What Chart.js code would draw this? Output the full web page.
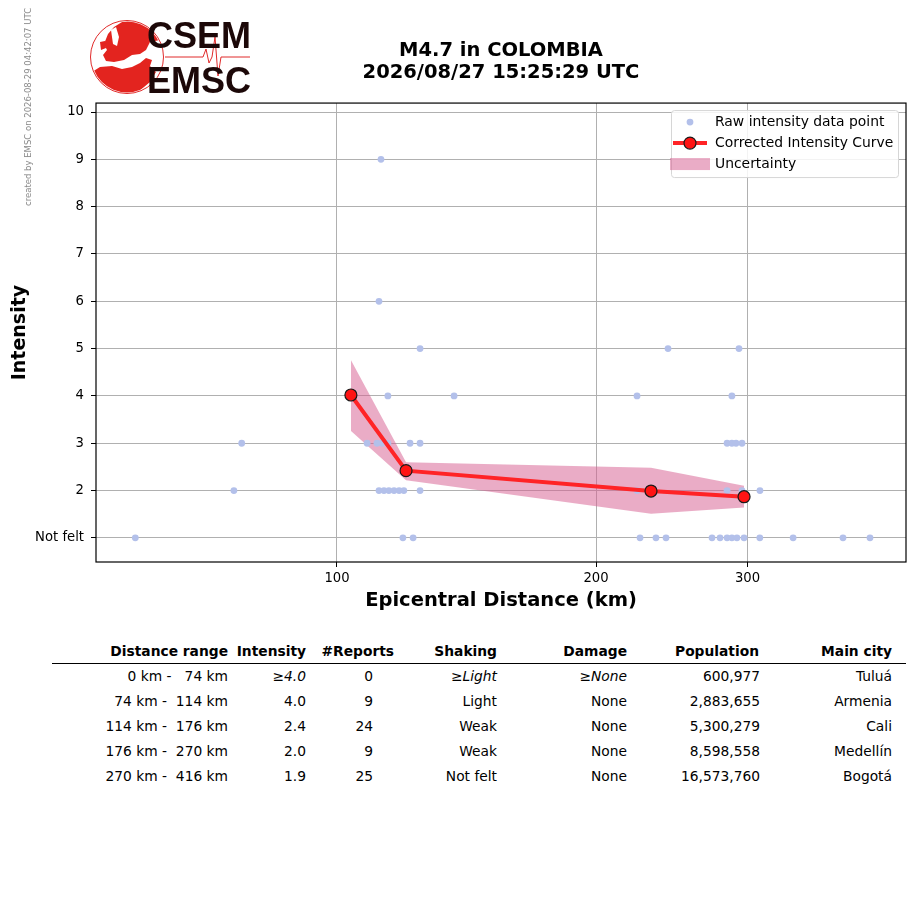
<!DOCTYPE html>
<html>
<head>
<meta charset="utf-8">
<title>M4.7 in COLOMBIA</title>
<script src="https://cdn.jsdelivr.net/npm/chart.js@4.4.1/dist/chart.umd.min.js"></script>
<style>
  html, body { margin: 0; padding: 0; background: #fff; }
  body { width: 915px; height: 905px; position: relative; overflow: hidden; font-family: 'DejaVu Sans', sans-serif; }
  #chart-wrap { position: absolute; left: 0; top: 0; width: 915px; height: 625px; }
  #logo { position: absolute; left: 0; top: 0; }
  .stamp { position: absolute; left: 28px; top: 107px; transform: translate(-50%, -50%) rotate(-90deg); font-size: 8.5px; color: #888; white-space: nowrap; }
  .cell { position: absolute; font-size: 13.8px; line-height: 16px; white-space: pre; text-align: right; color: #000; }
  .head { font-weight: bold; }
  .it { font-style: italic; }
  #rule { position: absolute; left: 52px; top: 663px; width: 854px; border-top: 1.5px solid #000; }
</style>
</head>
<body>
<div id="chart-wrap"><canvas id="Chart"></canvas></div>
<canvas id="logo" width="260" height="100"></canvas>
<div class="stamp">created by EMSC on 2026-08-29 04:42:07 UTC</div>
<div id="table"></div>
<div id="rule"></div>
<script>
// raw reports (distance km, intensity)
const rawDistance = [
  112.5,
  111.9,
  124.9, 242.5, 293.2,
  114.6, 136.8, 223.2, 287.7,
  77.5, 108.4, 111.3, 112.8, 114.6, 121.6, 124.9, 284.0, 287.7, 290.9, 295.6,
  75.9, 111.9, 113.4, 114.9, 116.5, 118.1, 119.6, 124.9, 223.2, 284.0, 295.6, 310.1,
  58.3, 119.3, 122.6, 225.0, 234.8, 241.2, 272.8, 278.7, 284.0, 287.7, 291.6, 297.2, 310.0, 338.9, 387.3, 416.3
];
const rawIntensity = [
  9,
  6,
  5, 5, 5,
  4, 4, 4, 4,
  3, 3, 3, 3, 3, 3, 3, 3, 3, 3, 3,
  2, 2, 2, 2, 2, 2, 2, 2, 2, 2, 2, 2,
  1, 1, 1, 1, 1, 1, 1, 1, 1, 1, 1, 1, 1, 1, 1, 1
];

// corrected curve and its uncertainty
const curveDistance = [103.8, 120.3, 231.7, 297.2];
const curveIntensity = [4.02, 2.42, 1.99, 1.87];
const bandUpper = [4.76, 2.60, 2.48, 2.10];
const bandLower = [3.26, 2.22, 1.51, 1.64];

const xTickValues = [100, 200, 300];
const yTickValues = [1, 2, 3, 4, 5, 6, 7, 8, 9, 10];
const yTickLabels = ['Not felt', '2', '3', '4', '5', '6', '7', '8', '9', '10'];

// summary table
const tableHeaders = ['Distance range', 'Intensity', '#Reports', 'Shaking', 'Damage', 'Population', 'Main city'];
const distanceRanges = ['  0 km -   74 km', ' 74 km -  114 km', '114 km -  176 km', '176 km -  270 km', '270 km -  416 km'];
const rangeIntensity = ['≥4.0', '4.0', '2.4', '2.0', '1.9'];
const reportCounts = ['0', '9', '24', '9', '25'];
const shaking = ['≥Light', 'Light', 'Weak', 'Weak', 'Not felt'];
const damage = ['≥None', 'None', 'None', 'None', 'None'];
const population = ['600,977', '2,883,655', '5,300,279', '8,598,558', '16,573,760'];
const mainCity = ['Tuluá', 'Armenia', 'Cali', 'Medellín', 'Bogotá'];

const FONT = 'DejaVu Sans';
Chart.defaults.font.family = FONT;
Chart.defaults.font.size = 13.2;
Chart.defaults.color = '#000';

const toPoints = (xs, ys) => xs.map((x, i) => ({ x: x, y: ys[i] }));

const plotFrame = {
  id: 'plotFrame',
  afterDraw(chart) {
    const a = chart.chartArea;
    const ctx = chart.ctx;
    ctx.save();
    ctx.strokeStyle = '#000';
    ctx.lineWidth = 1.2;
    ctx.strokeRect(a.left, a.top, a.right - a.left, a.bottom - a.top);
    ctx.restore();
  }
};

// legend sits inside the plot, top right
const insideLegend = {
  id: 'insideLegend',
  afterDraw(chart) {
    const a = chart.chartArea;
    const ctx = chart.ctx;
    const ds = chart.data.datasets;
    const left = a.right - 235, top = a.top + 7, w = 227, h = 67;
    ctx.save();
    ctx.fillStyle = 'rgba(255,255,255,0.85)';
    ctx.strokeStyle = '#d6d6d6';
    ctx.lineWidth = 1;
    ctx.beginPath();
    ctx.roundRect(left + 0.5, top + 0.5, w, h, 3);
    ctx.fill();
    ctx.stroke();

    const sx = left + 19, tx = left + 44;
    const rows = [top + 12, top + 33, top + 54];

    // raw points
    ctx.fillStyle = ds[1].backgroundColor;
    ctx.beginPath(); ctx.arc(sx, rows[0], 3.4, 0, Math.PI * 2); ctx.fill();
    // curve
    ctx.strokeStyle = ds[0].borderColor;
    ctx.lineWidth = 4;
    ctx.beginPath(); ctx.moveTo(sx - 17, rows[1]); ctx.lineTo(sx + 17, rows[1]); ctx.stroke();
    ctx.fillStyle = ds[0].pointBackgroundColor;
    ctx.strokeStyle = ds[0].pointBorderColor;
    ctx.lineWidth = 1.2;
    ctx.beginPath(); ctx.arc(sx, rows[1], 6, 0, Math.PI * 2); ctx.fill(); ctx.stroke();
    // band
    ctx.fillStyle = ds[3].backgroundColor;
    ctx.fillRect(sx - 20, rows[2] - 6, 40, 12);

    ctx.fillStyle = '#000';
    ctx.font = '13.9px "' + FONT + '"';
    ctx.textBaseline = 'middle';
    ctx.textAlign = 'left';
    ctx.fillText(ds[1].label, tx, rows[0]);
    ctx.fillText(ds[0].label, tx, rows[1]);
    ctx.fillText(ds[3].label, tx, rows[2]);
    ctx.restore();
  }
};

new Chart('Chart', {
  type: 'line',
  data: {
    datasets: [{
      label: 'Corrected Intensity Curve',
      data: toPoints(curveDistance, curveIntensity),
      borderColor: '#ff2326',
      borderWidth: 4,
      pointRadius: 6,
      pointBackgroundColor: '#ff1414',
      pointBorderColor: '#1a1a1a',
      pointBorderWidth: 1.2,
      tension: 0,
      fill: false,
      order: 1
    }, {
      label: 'Raw intensity data point',
      data: toPoints(rawDistance, rawIntensity),
      showLine: false,
      pointRadius: 3.4,
      pointBorderWidth: 0,
      backgroundColor: '#b3c0ea',
      pointBackgroundColor: '#b3c0ea',
      borderColor: '#b3c0ea',
      order: 2
    }, {
      label: 'lower',
      data: toPoints(curveDistance, bandLower),
      borderWidth: 0,
      pointRadius: 0,
      tension: 0,
      fill: false,
      order: 4
    }, {
      label: 'Uncertainty',
      data: toPoints(curveDistance, bandUpper),
      borderWidth: 0,
      pointRadius: 0,
      tension: 0,
      fill: '-1',
      backgroundColor: 'rgba(214,96,146,0.52)',
      order: 3
    }]
  },
  options: {
    responsive: true,
    maintainAspectRatio: false,
    animation: false,
    events: [],
    layout: { padding: { left: 0, right: 9, top: 0, bottom: 0 } },
    plugins: {
      legend: { display: false },
      tooltip: { enabled: false },
      title: {
        display: true,
        fullSize: false,
        text: ['M4.7 in COLOMBIA', '2026/08/27 15:25:29 UTC'],
        color: '#000',
        font: { family: FONT, size: 19.5, weight: 'bold', lineHeight: 1.13 },
        padding: { top: 40, bottom: 19 }
      }
    },
    scales: {
      x: {
        type: 'logarithmic',
        min: 52.48,
        max: 458.4,
        afterBuildTicks: (s) => { s.ticks = xTickValues.map(v => ({ value: v })); },
        afterFit: (s) => { s.height = 63; },
        ticks: { callback: (v) => String(v), padding: 4, maxRotation: 0, autoSkip: false, color: '#000' },
        grid: { color: '#b0b0b0', lineWidth: 1, tickColor: '#000', tickLength: 5 },
        border: { display: false },
        title: {
          display: true,
          text: 'Epicentral Distance (km)',
          color: '#000',
          font: { family: FONT, size: 19.5, weight: 'bold', lineHeight: 1.13 },
          padding: { top: 0, bottom: 13 }
        }
      },
      y: {
        min: 0.49,
        max: 10.19,
        afterBuildTicks: (s) => { s.ticks = yTickValues.map(v => ({ value: v })); },
        afterFit: (s) => { s.width = 96; },
        ticks: { callback: (v) => yTickLabels[yTickValues.indexOf(v)], padding: 7, color: '#000' },
        grid: { color: '#b0b0b0', lineWidth: 1, tickColor: '#000', tickLength: 5 },
        border: { display: false },
        title: {
          display: true,
          text: 'Intensity',
          color: '#000',
          font: { family: FONT, size: 19, weight: 'bold', lineHeight: 1.13 },
          padding: { top: 9, bottom: 0 }
        }
      }
    }
  },
  plugins: [plotFrame, insideLegend]
});

// EMSC logo
function drawLogo() {
  const ctx = document.getElementById('logo').getContext('2d');
  const poly = (pts) => {
    ctx.beginPath();
    pts.forEach((p, i) => i ? ctx.lineTo(p[0], p[1]) : ctx.moveTo(p[0], p[1]));
    ctx.closePath();
    ctx.fill();
  };
  ctx.strokeStyle = '#e02a2a';
  ctx.lineWidth = 1;
  ctx.beginPath(); ctx.arc(127, 57, 36.5, 0, Math.PI * 2); ctx.stroke();

  ctx.save();
  ctx.beginPath(); ctx.arc(127, 57, 35.5, 0, Math.PI * 2); ctx.clip();
  ctx.fillStyle = '#e3241f';
  // eurasia
  poly([[104,44],[108,34],[114,27],[122,22],[134,20],[148,21],[160,28],[166,36],[160,40],[150,42],[146,50],[140,54],[132,55],[124,60],[114,62],[106,61],[103,55],[107,50]]);
  // africa and middle east
  poly([[92,72],[100,67],[112,66],[122,69],[132,67],[140,63],[146,58],[152,60],[150,66],[156,72],[150,82],[138,92],[122,95],[106,92],[96,84]]);
  // british isles
  poly([[100,42],[105,41],[106,48],[101,50]]);
  ctx.fillStyle = '#fff';
  poly([[111,30],[116,27],[119,37],[117,46],[113,44]]);
  poly([[150,46],[158,46],[160,56],[154,58]]);
  ctx.restore();

  // seismogram trace
  ctx.strokeStyle = '#e02a2a';
  ctx.lineWidth = 1;
  ctx.beginPath();
  [[165,57],[203,57],[206,49],[209,63],[212,57],[215,37],[218,76],[221,57],[250,57]]
    .forEach((p, i) => i ? ctx.lineTo(p[0], p[1]) : ctx.moveTo(p[0], p[1]));
  ctx.stroke();

  ctx.fillStyle = '#1c0808';
  ctx.font = 'bold 36px "Liberation Sans"';
  ctx.textBaseline = 'alphabetic';
  ctx.fillText('CSEM', 147, 48);
  ctx.fillText('EMSC', 147, 93);
}
drawLogo();

// table below the chart
const headerRight = [228, 306, 394, 497, 627, 759, 892];
const valueRight = [228, 306, 373, 497, 627, 760, 892];
const columns = [distanceRanges, rangeIntensity, reportCounts, shaking, damage, population, mainCity];
const italicFirst = [false, true, false, true, true, false, false];
const rowCenters = [676, 701, 726, 751, 776];
const table = document.getElementById('table');

function addCell(text, right, centerY, cls) {
  const d = document.createElement('div');
  d.className = 'cell ' + cls;
  d.textContent = text;
  d.style.right = (915 - right) + 'px';
  d.style.top = (centerY - 8) + 'px';
  table.appendChild(d);
}
tableHeaders.forEach((h, c) => addCell(h, headerRight[c], 651, 'head'));
columns.forEach((col, c) => {
  col.forEach((v, r) => addCell(v, valueRight[c], rowCenters[r], (r === 0 && italicFirst[c]) ? 'it' : ''));
});
</script>
</body>
</html>
